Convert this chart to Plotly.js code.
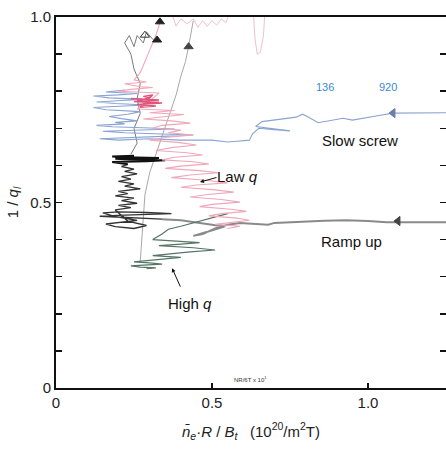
<!DOCTYPE html>
<html>
<head>
<meta charset="utf-8">
<script src="https://cdn.plot.ly/plotly-3.0.1.min.js"></script>
<style>html,body{margin:0;padding:0;background:#fff;}#chart{width:446px;height:451px;}</style>
</head>
<body>
<div id="chart"></div>
<script>
// Slow screw trajectory (blue), from right edge inward
const blueX = [1.25,1.16,1.08,1.04,0.99,0.95,0.92,0.88,0.84,0.81,0.79,0.77,0.74,0.70,0.66,0.64,0.69,0.75,0.70,0.65,0.63,0.62,0.58,0.55,0.50,0.45,0.40,0.30,0.20,0.14,0.24,0.36,0.44,0.33,0.22,0.15,0.25,0.38,0.30,0.18,0.13,0.22,0.19,0.26,0.21,0.17,0.23,0.27,0.16,0.12,0.22,0.29,0.19,0.13,0.21,0.28,0.17,0.12,0.20,0.26,0.16,0.22];
const blueY = [0.742,0.742,0.741,0.735,0.728,0.722,0.727,0.720,0.715,0.730,0.738,0.730,0.727,0.722,0.718,0.705,0.700,0.693,0.696,0.700,0.685,0.668,0.665,0.663,0.668,0.667,0.668,0.672,0.668,0.672,0.676,0.679,0.682,0.685,0.688,0.692,0.695,0.698,0.701,0.704,0.708,0.712,0.716,0.720,0.726,0.732,0.738,0.745,0.750,0.756,0.760,0.763,0.767,0.771,0.775,0.778,0.782,0.787,0.790,0.794,0.798,0.803];

// Law q trajectory (pink)
const pinkTopX = [0.67,0.665,0.655,0.645,0.638,0.632,null,0.56,0.545,0.53,0.515,0.50,0.485,0.47,0.455,0.44,0.42,0.40,0.385,0.375];
const pinkTopY = [1.02,0.95,0.905,0.90,0.94,1.02,null,1.02,0.985,0.995,0.978,0.99,0.975,0.99,0.972,0.995,0.982,0.995,0.975,1.0];
const pinkX = [0.335,0.32,0.30,0.285,0.27,0.25,0.29,0.22,0.27,0.31,0.24,0.20,0.28,0.33,0.28,0.26,0.38,0.30,0.41,0.33,0.28,0.37,0.43,0.34,0.31,0.40,0.36,0.44,0.35,0.30,0.39,0.45,0.37,0.32,0.42,0.47,0.38,0.34,0.44,0.49,0.40,0.35,0.46,0.52,0.43,0.37,0.48,0.55,0.45,0.40,0.51,0.57,0.48,0.43,0.53,0.59,0.50,0.46,0.56,0.61,0.53,0.49,0.58,0.62,0.55,0.51,0.59,0.55];
const pinkY = [0.990,0.950,0.910,0.880,0.850,0.830,0.825,0.820,0.812,0.810,0.805,0.800,0.797,0.795,0.760,0.752,0.748,0.742,0.737,0.730,0.725,0.720,0.714,0.708,0.700,0.695,0.688,0.682,0.675,0.668,0.662,0.655,0.648,0.640,0.634,0.628,0.622,0.615,0.610,0.604,0.598,0.592,0.586,0.580,0.574,0.567,0.560,0.553,0.547,0.541,0.534,0.528,0.521,0.515,0.508,0.501,0.495,0.489,0.482,0.476,0.470,0.464,0.458,0.452,0.446,0.441,0.436,0.430];
const redX = [0.24,0.33,0.25,0.34,0.26,0.32,0.27,0.31,0.28,0.30,0.26,0.33,0.29];
const redY = [0.780,0.776,0.772,0.768,0.764,0.760,0.757,0.790,0.786,0.782,0.774,0.770,0.766];

// Ramp up trajectory (grey / black)
const rampX = [1.25,1.19,1.10,1.06,1.00,0.93,0.86,0.80,0.75,0.70,0.68,0.63,0.59,0.55,0.51,0.47,0.44,0.48,0.54,0.50,0.45,0.40,0.34];
const rampY = [0.447,0.447,0.449,0.447,0.450,0.452,0.451,0.449,0.447,0.445,0.440,0.442,0.445,0.440,0.430,0.415,0.410,0.420,0.435,0.440,0.445,0.452,0.455];
const coreX = [0.34,0.26,0.18,0.14,0.22,0.30,0.37,0.29,0.20,0.15,0.19,0.26,0.20,0.16,0.19,0.25,0.29,0.23,0.19,0.24,0.20,0.26,0.21,0.25,0.19,0.23,0.20,0.27,0.22,0.25,0.20,0.24,0.21,0.26,0.22,0.25,0.21,0.23];
const coreY = [0.455,0.458,0.460,0.463,0.466,0.468,0.470,0.473,0.475,0.472,0.462,0.452,0.447,0.442,0.435,0.430,0.438,0.450,0.480,0.486,0.492,0.498,0.505,0.512,0.518,0.524,0.530,0.537,0.544,0.550,0.557,0.563,0.570,0.577,0.584,0.590,0.597,0.603];
const blobX = [0.23,0.18,0.29,0.35,0.24,0.19,0.27,0.33,0.22,0.18,0.25];
const blobY = [0.603,0.609,0.611,0.614,0.616,0.618,0.617,0.620,0.622,0.624,0.626];
const upX = [0.24,0.26,0.25,0.27,0.26,0.27,0.25,0.24,0.22,0.235,0.25,0.26,0.28,0.29,0.31,0.324];
const upY = [0.630,0.660,0.700,0.740,0.780,0.820,0.860,0.900,0.930,0.950,0.920,0.950,0.930,0.960,0.940,0.938];

// High q trajectory (green-grey)
const greenX = [0.55,0.50,0.45,0.40,0.36,0.34,0.31,0.38,0.46,0.40,0.33,0.44,0.51,0.43,0.36,0.31,0.40,0.34,0.28,0.25,0.30,0.34,0.28,0.24,0.27,0.32,0.29];
const greenY = [0.470,0.458,0.447,0.436,0.428,0.415,0.400,0.397,0.392,0.388,0.384,0.378,0.372,0.367,0.362,0.357,0.352,0.347,0.344,0.340,0.337,0.334,0.331,0.329,0.326,0.324,0.322];

// Thin guide line
const thinX = [0.27,0.275,0.28,0.285,0.30,0.32,0.34,0.36,0.385,0.40,0.415,0.425,0.44];
const thinY = [0.34,0.40,0.46,0.52,0.58,0.63,0.68,0.73,0.79,0.84,0.88,0.92,0.99];

// Direction arrowheads
const arrowX = [1.08,1.096,0.425,0.333,0.324,0.285];
const arrowY = [0.741,0.450,0.920,0.987,0.938,0.951];
const arrowSym = ['triangle-left','triangle-left','triangle-up','triangle-up','triangle-up','triangle-up-open'];
const arrowCol = ['#6a7fa8','#444444','#444444','#222222','#222222','#333333'];

const FONT = '"Liberation Sans Narrow", "Arial Narrow", "Liberation Sans", Arial, sans-serif';

const line = (x, y, color, w) => ({x, y, type:'scatter', mode:'lines', line:{color, width:w}, hoverinfo:'skip', connectgaps:false});

const data = [
  line(thinX, thinY, '#a8a8a8', 1),
  line(rampX, rampY, '#8a8a8a', 2),
  line(greenX, greenY, '#557466', 1.2),
  line(coreX, coreY, '#333333', 1.3),
  line(blobX, blobY, '#111111', 2),
  line(upX, upY, '#7a7a7a', 1),
  line(blueX, blueY, '#8aa3d2', 1.1),
  line(pinkTopX, pinkTopY, '#f0c0cc', 1),
  line(pinkX, pinkY, '#efa8b9', 1.1),
  line(redX, redY, '#df5478', 1.5),
  {x:arrowX, y:arrowY, type:'scatter', mode:'markers', hoverinfo:'skip',
   marker:{symbol:arrowSym, size:8, color:arrowCol, line:{color:arrowCol, width:1}}}
];

const layout = {
  width:446, height:451,
  margin:{l:56, r:0, t:17, b:63},
  paper_bgcolor:'#ffffff', plot_bgcolor:'#ffffff',
  showlegend:false,
  font:{family:FONT, color:'#222', size:15},
  xaxis:{range:[0,1.25], showline:true, linecolor:'#111', linewidth:2, mirror:true,
    ticks:'inside', ticklen:5, tickwidth:1.5, tickcolor:'#111',
    tickvals:[0,0.5,1.0], ticktext:['0','0.5','1.0'], showgrid:false, zeroline:false,
    tickfont:{family:FONT, size:15, color:'#222'},
    title:{text:'<i>n\u0304</i><sub><i>e</i></sub>·<i>R</i> / <i>B</i><sub><i>t</i></sub>\u00a0\u00a0\u00a0(10<sup>20</sup>/m<sup>2</sup>T)', font:{family:FONT, size:15, color:'#222'}, standoff:16}},
  yaxis:{range:[0,1], showline:true, linecolor:'#111', linewidth:2, mirror:'ticks',
    ticks:'inside', ticklen:6, tickwidth:1.5, tickcolor:'#111',
    tickvals:[0,0.1,0.2,0.3,0.4,0.5,0.6,0.7,0.8,0.9,1.0],
    ticktext:['0','','','','','0.5','','','','','1.0'], showgrid:false, zeroline:false,
    tickfont:{family:FONT, size:15, color:'#222'},
    title:{text:'1 / <i>q</i><sub><i>l</i></sub>', font:{family:FONT, size:15, color:'#222'}, standoff:8}},
  annotations:[
    {x:0.862, y:0.811, text:'136', showarrow:false, font:{family:FONT, size:11, color:'#3b8ad0'}},
    {x:1.064, y:0.811, text:'920', showarrow:false, font:{family:FONT, size:11, color:'#3b8ad0'}},
    {x:0.974, y:0.668, text:'Slow screw', showarrow:false, font:{family:FONT, size:15, color:'#111'}},
    {x:0.583, y:0.571, text:'Law <i>q</i>', showarrow:false, font:{family:FONT, size:15, color:'#111'}},
    {x:0.4615, y:0.555, ax:18, ay:-5, text:'', showarrow:true, arrowhead:2, arrowsize:0.8, arrowwidth:1, arrowcolor:'#111'},
    {x:0.946, y:0.394, text:'Ramp up', showarrow:false, font:{family:FONT, size:15, color:'#111'}},
    {x:0.43, y:0.229, text:'High <i>q</i>', showarrow:false, font:{family:FONT, size:15, color:'#111'}},
    {x:0.372, y:0.323, ax:9, ay:20, text:'', showarrow:true, arrowhead:2, arrowsize:0.8, arrowwidth:1, arrowcolor:'#111'},
    {x:0.622, y:0.024, text:'NR/6T x 10<sup>1</sup>', showarrow:false, font:{family:FONT, size:6, color:'#333'}}
  ]
};

Plotly.newPlot('chart', data, layout, {staticPlot:true, displayModeBar:false});
</script>
</body>
</html>
